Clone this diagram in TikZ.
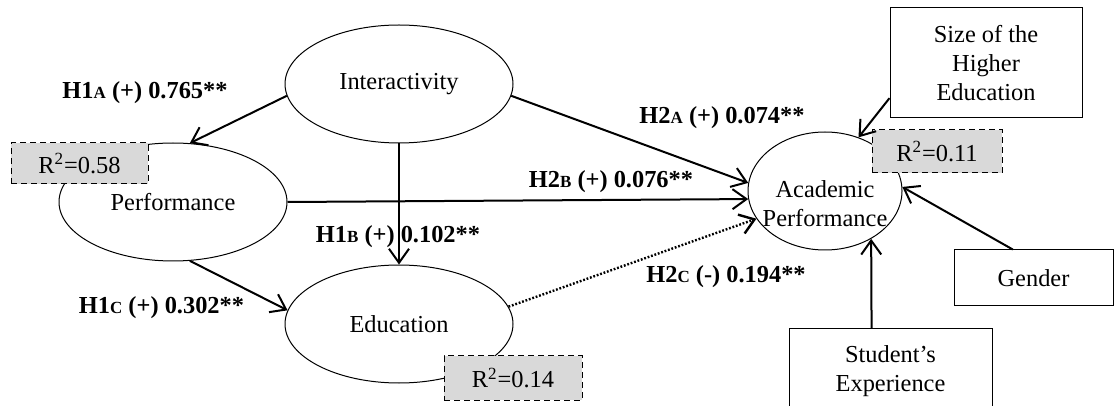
\documentclass[tikz,border=0pt]{standalone}
\usepackage{fontspec}
\setmainfont{Liberation Serif}
\usepackage{xcolor}
\usepackage{tikz}
\usetikzlibrary{arrows.meta, positioning, calc, shapes}

\newcommand{\hsub}[1]{{\fontsize{8.5}{10}\selectfont #1}}

\begin{document}
\begin{tikzpicture}[
    x=0.5pt, y=-0.5pt,
    % 基础样式定义
    every node/.style={font=\fontsize{12.2}{14.5}\selectfont, align=center, inner sep=0pt},
    % 潜变量（椭圆）
    latent/.style={draw, ellipse, line width=0.5pt, minimum width=114pt, minimum height=59pt},
    % 控制变量（矩形）
    ctrlbox/.style={draw, rectangle, line width=0.5pt},
    % R方
    rsq/.style={draw, densely dashed, fill=black!15, line width=0.5pt, minimum width=68pt, minimum height=21.5pt},
    % 路径系数
    coef/.style={font=\fontsize{12.2}{14.5}\selectfont\bfseries},
    effect/.style={line width=1pt, -{Straight Barb[length=7pt, width=10pt]}}
]

\useasboundingbox (0,0) rectangle (1114,406);
\clip (0,0) rectangle (1114,406);

% 潜变量
\node[latent] (inter) at (399,84) {Interactivity};
\node[latent] (perf) at (173,202) {Performance};
\node[latent] (edu) at (399,324) {Education};
\node[latent, minimum width=77pt] (acad) at (825,191) {};
\node (acadtxt) at (825,204) {Academic\\Performance};

% 控制变量
\node[ctrlbox, minimum width=96pt, minimum height=55pt] (size) at (986,63) {Size of the\\Higher\\Education};
\node[ctrlbox, minimum width=79.5pt, minimum height=28pt] (gender) at (1033.5,278) {Gender};
\node[ctrlbox, minimum width=101.5pt, minimum height=42pt] (stud) at (890.5,371) {Student’s\\Experience};

% R方
\node[rsq, minimum width=68.5pt, minimum height=20.5pt] (rperf) at (79.5,163.5) {R\textsuperscript{2}=0.58};
\node[rsq, minimum width=65pt] (racad) at (937,151.5) {R\textsuperscript{2}=0.11};
\node[rsq, minimum width=69pt, minimum height=22pt] (redu) at (513,378) {R\textsuperscript{2}=0.14};

% 路径
\draw[effect] (inter.186) -- (perf.74);
\draw[effect] (inter.south) -- (edu.north);
\draw[effect] (inter.-6) -- (acad.174);
\draw[effect] (perf.east) -- (acad.186);
\draw[effect] (perf.-74) -- (edu.173);
\draw[effect, line width=1.2pt, dash pattern=on 0.9pt off 0.9pt] (edu.9) -- (acad.202);
\draw[effect] (size.200) -- (acad.58);
\draw[effect] (gender.126) -- (acad.3);
\draw[effect] (stud.114) -- (acad.-46);

% 系数
\node[coef] (h1a) at (145,93) {H1\hsub{A} (+) 0.765**};
\node[coef] (h1b) at (398,237) {H1\hsub{B} (+) 0.102**};
\node[coef] (h1c) at (161.5,308) {H1\hsub{C} (+) 0.302**};
\node[coef] (h2a) at (722,118) {H2\hsub{A} (+) 0.074**};
\node[coef] (h2b) at (611,182) {H2\hsub{B} (+) 0.076**};
\node[coef] (h2c) at (726,277) {H2\hsub{C} (-) 0.194**};

\end{tikzpicture}
\end{document}
